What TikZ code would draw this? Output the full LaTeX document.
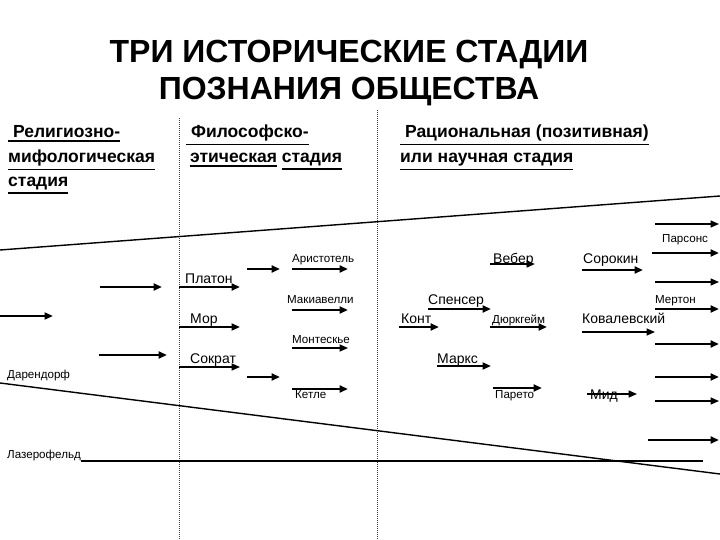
\documentclass[tikz,border=0pt]{standalone}
\usepackage{fontspec}
\setmainfont{Liberation Sans}
\usetikzlibrary{arrows.meta}
\newcommand\harrow[5]{\coordinate (#1a) at (#2,#4); \coordinate (#1b) at (#3,#4); \draw[#5] (#1a) -- (#1b);}
\newcommand\myul[1]{\leavevmode\vtop{\hbox{#1}\kern2pt\hrule height1.5pt}}
\begin{document}
\begin{tikzpicture}[x=1pt,y=-1pt,
  tip/.style={-{Triangle[length=8.5pt,width=7pt]}},
  thk/.style={tip,line width=2.8pt},
  med/.style={tip,line width=2pt},
  thn/.style={tip,line width=1.5pt},
  big/.style={inner sep=0pt,anchor=base west,font=\fontsize{14}{16}\selectfont},
  sml/.style={inner sep=0pt,anchor=base west,font=\fontsize{11.6}{13}\selectfont},
  hdr/.style={inner sep=0pt,anchor=base west,font=\fontsize{17.5}{20}\selectfont\bfseries},
  ttl/.style={inner sep=0pt,anchor=base,font=\fontsize{32}{36}\selectfont\bfseries},
  sep/.style={line width=0.9pt,dash pattern=on 1pt off 1pt,black!75},
  bound/.style={line width=1.4pt}]
\useasboundingbox (0,0) rectangle (720,540);
% title
\node[ttl] (t1) at (349,63) {ТРИ ИСТОРИЧЕСКИЕ СТАДИИ};
\node[ttl] (t2) at (349,100) {ПОЗНАНИЯ ОБЩЕСТВА};
% separators
\coordinate (s1a) at (179,118); \coordinate (s1b) at (179,540);
\coordinate (s2a) at (377,110); \coordinate (s2b) at (377,540);
\draw[sep] (s1a) -- (s1b);
\draw[sep] (s2a) -- (s2b);
% headers
\node[hdr] (h11) at (8,138) {\myul{\ Религиозно-}};
\node[hdr] (h12) at (8,163) {\myul{мифологическая}};
\node[hdr] (h13) at (8,187) {\myul{стадия}};
\node[hdr] (h21) at (186,138) {\myul{\ Философско-}};
\node[hdr] (h22) at (190,163) {\myul{этическая} \myul{стадия}};
\node[hdr] (h31) at (400,138) {\myul{\ Рациональная (позитивная)}};
\node[hdr] (h32) at (400,163) {\myul{или научная стадия}};
% boundary lines
\coordinate (u1) at (0,250); \coordinate (u2) at (720,196);
\draw[bound] (u1) -- (u2);
\coordinate (l1) at (0,383); \coordinate (l2) at (720,474);
\draw[bound] (l1) -- (l2);
% labels
\node[big] (platon) at (185,283) {Платон};
\node[big] (mor) at (190,323) {Мор};
\node[big] (sokrat) at (190,363) {Сократ};
\node[big] (veber) at (493,263) {Вебер};
\node[big] (sorokin) at (583,263) {Сорокин};
\node[big] (spenser) at (428,304) {Спенсер};
\node[big] (kont) at (401,323) {Конт};
\node[big] (kovalev) at (582,323) {Ковалевский};
\node[big] (marks) at (437,363) {Маркс};
\node[big] (mid) at (590,399) {Мид};
\node[sml] (arist) at (292,262) {Аристотель};
\node[sml] (makiav) at (287,303) {Макиавелли};
\node[sml] (montesk) at (292,343) {Монтескье};
\node[sml] (ketle) at (295,398) {Кетле};
\node[sml] (parsons) at (662,243) {Парсонс};
\node[sml] (merton) at (655,303) {Мертон};
\node[sml] (durk) at (492,323) {Дюркгейм};
\node[sml] (pareto) at (495,398) {Парето};
\node[sml] (darend) at (7,378) {Дарендорф};
\node[sml] (lazar) at (7,458) {Лазерофельд};
% Lazarsfeld line
\coordinate (lz) at (703,461);
\draw[line width=2.8pt] (lazar.base east) ++(0,3) -- (lz |- 0,461);
% arrows right edge
\harrow{r1}{655}{719}{224}{thn}
\harrow{r2}{652}{719}{253}{thk}
\harrow{r3}{655}{719}{282}{thn}
\harrow{r4}{655}{719}{309}{thk}
\harrow{r5}{655}{719}{344}{thk}
\harrow{r6}{655}{719}{377}{thk}
\harrow{r7}{655}{719}{401}{thn}
\harrow{r8}{648}{719}{440}{thk}
% arrows third column
\harrow{c1}{490}{535}{264}{med}
\harrow{c2}{582}{643}{270}{thk}
\harrow{c3}{428}{491}{309}{thk}
\harrow{c4}{399}{439}{327}{thk}
\harrow{c5}{490}{547}{327}{thk}
\harrow{c6}{582}{655}{332}{thn}
\harrow{c7}{437}{491}{366}{med}
\harrow{c8}{493}{542}{388}{thk}
\harrow{c9}{587}{637}{394}{thn}
% arrows first column
\harrow{f1}{100}{162}{287}{thk}
\harrow{f2}{0}{53}{316}{med}
\harrow{f3}{99}{167}{355}{thk}
% arrows second column
\harrow{m1}{179}{240}{287}{thk}
\harrow{m2}{179}{240}{327}{med}
\harrow{m3}{179}{240}{367}{thn}
\harrow{m4}{247}{280}{269}{thk}
\harrow{m5}{292}{348}{269}{thk}
\harrow{m6}{292}{348}{310}{thk}
\harrow{m7}{292}{348}{348}{thn}
\harrow{m8}{247}{280}{377}{thk}
\harrow{m9}{292}{348}{389}{thk}
\end{tikzpicture}
\end{document}
